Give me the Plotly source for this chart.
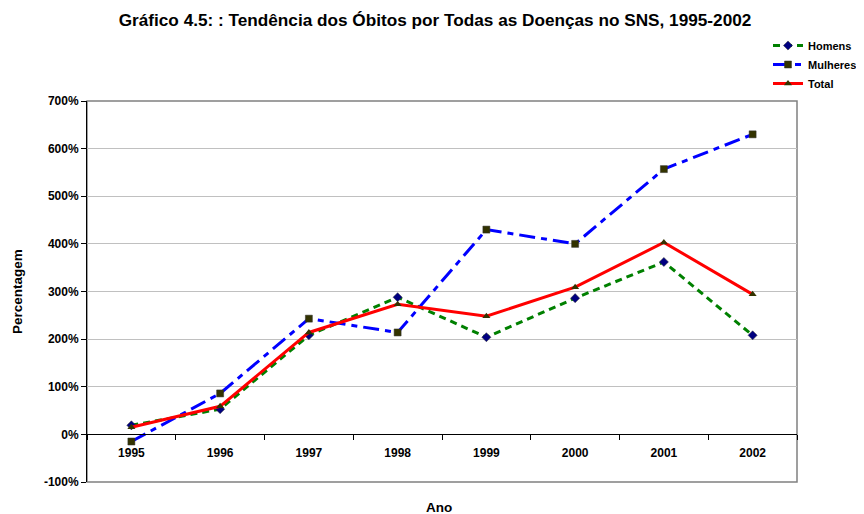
import plotly.graph_objects as go

anos = ["1995", "1996", "1997", "1998", "1999", "2000", "2001", "2002"]
homens = [19, 53, 208, 288, 204, 286, 362, 208]
mulheres = [-15, 86, 243, 214, 430, 400, 557, 630]
total = [15, 59, 214, 273, 248, 309, 403, 294]
y_ticks = [-100, 0, 100, 200, 300, 400, 500, 600, 700]

fonte = "Liberation Sans, Arial, sans-serif"

# a página tem margem de 8px no body; posições medidas na imagem de referência
OFF = 8
W, H = 864, 514
L, R, T, B = 87 - OFF, 797 - OFF, 101 - OFF, 482 - OFF


def px_paper(px, py):
    px, py = px - OFF, py - OFF
    return (px - L) / (R - L), (B - py) / (B - T)


fig = go.Figure()
fig.add_trace(go.Scatter(
    x=anos, y=homens, name="<b>Homens</b>", mode="lines+markers",
    line=dict(color="#008000", width=3, dash="7px,5px"),
    marker=dict(symbol="diamond", size=7, color="#000080", line=dict(color="#333333", width=0.5)),
))
fig.add_trace(go.Scatter(
    x=anos, y=mulheres, name="<b>Mulheres</b>", mode="lines+markers",
    line=dict(color="#0000FF", width=3, dash="16px,6px,6px,6px"),
    marker=dict(symbol="square", size=7, color="#333300", line=dict(color="#333333", width=0.5)),
))
fig.add_trace(go.Scatter(
    x=anos, y=total, name="<b>Total</b>", mode="lines+markers",
    line=dict(color="#FF0000", width=3),
    marker=dict(symbol="triangle-up", size=7, color="#333300"),
))

lx, ly = px_paper(768, 31)
fig.update_layout(
    width=W, height=H,
    margin=dict(l=L, r=W - R, t=T, b=H - B, autoexpand=False),
    paper_bgcolor="white", plot_bgcolor="white",
    font=dict(family=fonte, size=11, color="black"),
    title=dict(
        text="<b>Gráfico 4.5: : Tendência dos Óbitos por Todas as Doenças no SNS, 1995-2002</b>",
        x=(435 - OFF) / W, xanchor="center", xref="container",
        y=1 - (20 - OFF) / H, yref="container", yanchor="middle",
        font=dict(family=fonte, size=17.2, color="black"),
    ),
    legend=dict(
        x=lx, y=ly, xanchor="left", yanchor="top",
        font=dict(family=fonte, size=11, color="black"), tracegroupgap=0,
        bgcolor="rgba(0,0,0,0)", itemwidth=30,
    ),
    showlegend=True,
)

fig.update_xaxes(
    type="category", range=[-0.5, 7.5],
    anchor="free", position=0.125,
    showline=True, linecolor="black", linewidth=1,
    ticks="outside", tickson="boundaries", ticklen=5, tickcolor="black",
    ticklabelstandoff=7,
    tickfont=dict(family=fonte, size=12, color="black"),
    tickprefix="<b>", ticksuffix="</b>",
    showgrid=False, zeroline=False,
)
fig.update_yaxes(
    range=[-100, 700], tickvals=y_ticks,
    ticktext=["<b>%d%%</b>" % v for v in y_ticks],
    showline=True, linecolor="black", linewidth=1,
    ticks="outside", ticklen=5, tickcolor="black",
    showgrid=True, gridcolor="#c0c0c0", gridwidth=1,
    zeroline=False,
    tickfont=dict(family=fonte, size=12, color="black"),
)

# moldura da área do gráfico
fig.add_shape(type="rect", xref="x domain", yref="y domain", x0=0, x1=1, y0=0, y1=1,
              line=dict(color="#808080", width=1.5), layer="below")

ax, ay = px_paper(17, 292)
fig.add_annotation(text="<b>Percentagem</b>", xref="paper", yref="paper",
                   x=ax, y=ay, xanchor="center", yanchor="middle",
                   textangle=-90, showarrow=False,
                   font=dict(family=fonte, size=13.5, color="black"))
ax, ay = px_paper(439, 507)
fig.add_annotation(text="<b>Ano</b>", xref="paper", yref="paper",
                   x=ax, y=ay, xanchor="center", yanchor="middle", showarrow=False,
                   font=dict(family=fonte, size=13.5, color="black"))

fig.write_html("out.html")
